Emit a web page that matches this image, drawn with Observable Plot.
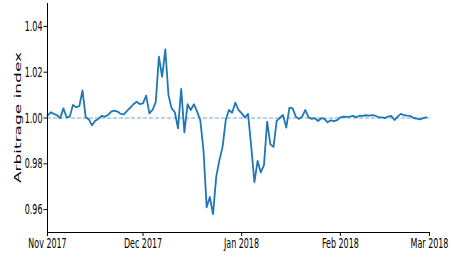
<!DOCTYPE html>
<html><head><meta charset="utf-8">
<script src="https://cdn.jsdelivr.net/npm/d3@7"></script>
<script src="https://cdn.jsdelivr.net/npm/@observablehq/plot@0.6"></script>
<style>html,body{margin:0;padding:0;background:#fff}</style>
</head><body><div id="chart"></div>
<script>
// Daily series, 1 Nov 2017 .. 28 Feb 2018
const startDate = "2017-11-01";
const endDate = "2018-02-28";
const arbitrageIndex = [
  1.0010, 1.0025, 1.0018, 1.0012, 0.9999, 1.0042, 1.0003, 1.0006, 1.0057, 1.0047,
  1.0052, 1.0120, 1.0003, 0.9994, 0.9968, 0.9988, 0.9996, 1.0009, 1.0006, 1.0013,
  1.0028, 1.0032, 1.0028, 1.0018, 1.0016, 1.0031, 1.0045, 1.0060, 1.0071, 1.0061,
  1.0064, 1.0098, 1.0020, 1.0035, 1.0069, 1.0268, 1.0180, 1.0300, 1.0100, 1.0042,
  1.0025, 0.9955, 1.0127, 0.9937, 1.0060, 1.0035, 1.0060, 1.0028, 0.9990, 0.9860,
  0.9610, 0.9655, 0.9580, 0.9743, 0.9816, 0.9874, 0.9991, 1.0035, 1.0023, 1.0067,
  1.0035, 1.0020, 1.0003, 1.0018, 0.9875, 0.9720, 0.9813, 0.9762, 0.9794, 0.9984,
  0.9885, 0.9874, 0.9987, 1.0001, 1.0013, 0.9958, 1.0045, 1.0042, 1.0006, 0.9996,
  1.0006, 1.0035, 1.0003, 0.9996, 0.9999, 0.9987, 0.9999, 0.9996, 0.9981, 0.9990,
  0.9986, 0.9991, 1.0003, 1.0006, 1.0005, 1.0006, 1.0009, 1.0003, 1.0010, 1.0009,
  1.0012, 1.0010, 1.0013, 1.0010, 1.0003, 1.0003, 1.0000, 1.0006, 1.0009, 0.9991,
  1.0006, 1.0018, 1.0012, 1.0010, 1.0009, 1.0000, 0.9997, 0.9994, 0.9999, 1.0003
];
const xTickDates = ["2017-11-01", "2017-12-01", "2018-01-01", "2018-02-01", "2018-03-01"];
const yTicks = [0.96, 0.98, 1.00, 1.02, 1.04];
const yDomain = [0.95, 1.05];
const referenceLevel = 1.0;
const yLabel = "Arbitrage index";

const days = d3.utcDay.range(new Date(startDate), d3.utcDay.offset(new Date(endDate), 1));
const data = days.map((d, i) => ({date: d, value: arbitrageIndex[i]}));
const xDomain = [new Date(xTickDates[0]), new Date(xTickDates[xTickDates.length - 1])];

const chart = Plot.plot({
  width: 451, height: 258,
  marginLeft: 47, marginRight: 22, marginTop: 3, marginBottom: 26,
  style: {fontFamily: "DejaVu Sans", fontSize: "14.5px", background: "#fff", color: "#000", overflow: "visible"},
  x: {type: "utc", domain: xDomain},
  y: {domain: yDomain},
  marks: [
    Plot.ruleY([referenceLevel], {stroke: "#6aa8e0", strokeWidth: 1, strokeDasharray: "4,2"}),
    Plot.line(data, {x: "date", y: "value", stroke: "#1f77b4", strokeWidth: 1.8}),
    Plot.ruleX([xDomain[0]], {stroke: "#000", strokeWidth: 1}),
    Plot.ruleY([yDomain[0]], {stroke: "#000", strokeWidth: 1.2}),
    Plot.axisX({ticks: xTickDates.map(d => new Date(d)), tickFormat: d3.utcFormat("%b %Y"), tickSize: 4, tickPadding: 1, label: null}),
    Plot.axisY({ticks: yTicks, tickFormat: d3.format(".2f"), tickSize: 3.5, tickPadding: 1.5, label: null})
  ]
});
document.getElementById("chart").appendChild(chart);

const svg = d3.select(chart);
svg.append("text")
  .attr("transform", "translate(18,117.5) rotate(-90)")
  .attr("text-anchor", "middle")
  .attr("dominant-baseline", "central")
  .attr("font-size", "17px")
  .attr("fill", "#000")
  .text(yLabel);

// Horizontal compression of all text, like the reference
const squish = 0.55;
chart.querySelectorAll("text").forEach(t => {
  const r = t.getBoundingClientRect();
  const anchor = getComputedStyle(t).textAnchor;
  let ax;
  if (t.textContent === yLabel || anchor === "middle") ax = (r.left + r.right) / 2;
  else if (anchor === "end") ax = r.right;
  else ax = r.left;
  const m = t.parentNode.getScreenCTM();
  const px = (ax - m.e) / m.a;
  const old = t.getAttribute("transform") || "";
  t.setAttribute("transform", `translate(${px},0) scale(${squish},1) translate(${-px},0) ${old}`);
});
</script></body></html>
